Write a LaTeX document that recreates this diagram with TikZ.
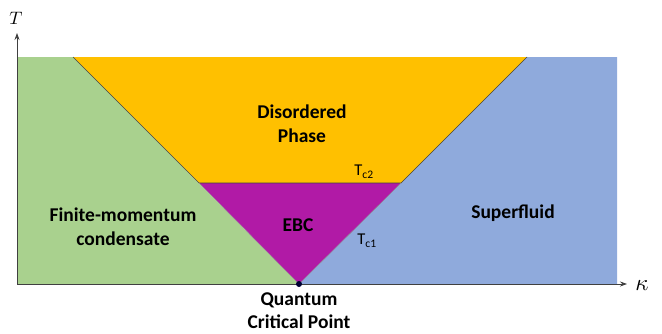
\documentclass[tikz,border=0pt]{standalone}
\usepackage{amsmath, amssymb}
\usepackage{xcolor}
\usepackage{graphicx}
\usepackage{fontspec}
\newfontfamily\calibri{Carlito}
\usepackage{tikz}
\usetikzlibrary{positioning, arrows.meta}

\definecolor{fmgreen}{HTML}{A9D18E}
\definecolor{disorange}{HTML}{FFC000}
\definecolor{sfblue}{HTML}{8FAADC}
\definecolor{ebcpurple}{HTML}{B11AA6}
\definecolor{bordergray}{HTML}{404040}

\begin{document}
\begin{tikzpicture}[x=1pt, y=1pt,
	every node/.style={inner sep=0pt},
	phase/.style={font=\calibri\bfseries\fontsize{19.5}{24}\selectfont, align=center},
	crit/.style={font=\calibri\fontsize{16.5}{18}\selectfont},
	axis/.style={black!75, line width=0.8pt, -{Stealth[length=7pt, width=5pt]}}]
		\useasboundingbox (0,0) rectangle (662,333);
		
		% Corners of the diagram
		\coordinate (O) at (17,49);
		\coordinate (qcp) at (299,49);
		\coordinate (tl) at (17,276);
		\coordinate (tr) at (617,276);
		\coordinate (br) at (617,49);
		\coordinate (ol) at (73,276);
		\coordinate (or) at (527,276);
		\coordinate (cl) at (199,150);
		\coordinate (cr) at (401,150);
		
		% Regions
		\fill[fmgreen] (O) -- (tl) -- (ol) -- (qcp) -- cycle;
		\fill[sfblue] (qcp) -- (or) -- (tr) -- (br) -- cycle;
		\fill[disorange] (ol) -- (or) -- (cr) -- (cl) -- cycle;
		\fill[ebcpurple] (cl) -- (cr) -- (qcp) -- cycle;
		
		% Phase boundaries
		\draw[bordergray, line width=0.7pt] (ol) -- (cl) -- (cr) -- (or);
		\draw[bordergray!60, line width=0.4pt] (cl) -- (qcp) -- (cr);
		
		% Axes
		\coordinate (tend) at (17,300);
		\coordinate (kend) at (627,49);
		\draw[axis] (O) -- (tend);
		\draw[axis] (O) -- (kend);
		\node (tlabel) at (16,315) {\scalebox{1.8}{$T$}};
		\node (klabel) at (642,47) {\scalebox{2.3}{$\kappa$}};
		
		% Quantum critical point
		\fill[black!80!blue] (qcp) circle (3pt);
		\node[phase, font=\calibri\bfseries\fontsize{19.5}{23}\selectfont] (qcplabel) at (299,22) {Quantum\\Critical Point};
		
		% Labels
		\node[phase] (dis) at (302,209) {Disordered\\Phase};
		\node[phase] (fmc) at (123,106) {Finite-momentum\\condensate};
		\node[phase] (ebc) at (298,108) {EBC};
		\node[phase] (sf) at (513,120) {Superfluid};
		\node[crit] (tc2) at (364,161) {T\textsubscript{c2}};
		\node[crit] (tc1) at (367,92) {T\textsubscript{c1}};
	\end{tikzpicture}
\end{document}
